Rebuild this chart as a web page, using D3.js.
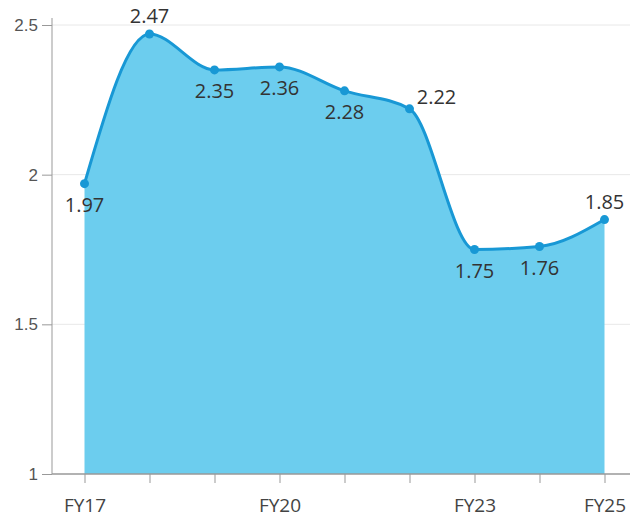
<!DOCTYPE html>
<html><head><meta charset="utf-8">
<script src="https://cdn.jsdelivr.net/npm/d3@7"></script>
<style>body{margin:0;background:#fff;font-family:"Open Sans","Noto Sans",sans-serif;}</style>
</head><body><svg id="c" width="630" height="518"></svg>
<script>
const categories = ["FY17","FY18","FY19","FY20","FY21","FY22","FY23","FY24","FY25"];
const values = [1.97,2.47,2.35,2.36,2.28,2.22,1.75,1.76,1.85];
const xTickLabels = ["FY17","FY20","FY23","FY25"];
const yTicks = [1,1.5,2,2.5];
const labelPos = ["below","above","below","below","below","right","below","below","above"];

const svg = d3.select("#c");
const mLeft = 52, mRight = 637, mTop = 25, mBottom = 474;
const x = d3.scalePoint().domain(categories).range([mLeft,mRight]).padding(0.5);
const y = d3.scaleLinear().domain([1,2.5]).range([mBottom,mTop]);

// grid
svg.append("g").selectAll("line").data(yTicks.filter(t=>t>1)).join("line")
  .attr("x1",mLeft).attr("x2",630).attr("y1",d=>y(d)).attr("y2",d=>y(d))
  .attr("stroke","#e8e8e8").attr("stroke-width",1);

const data = categories.map((c,i)=>({c,v:values[i]}));
const area = d3.area().x(d=>x(d.c)).y0(y(1)).y1(d=>y(d.v)).curve(d3.curveMonotoneX);
const line = d3.line().x(d=>x(d.c)).y(d=>y(d.v)).curve(d3.curveMonotoneX);
svg.append("path").datum(data).attr("d",area).attr("fill","#6ccdee");
svg.append("path").datum(data).attr("d",line).attr("fill","none").attr("stroke","#1898d5").attr("stroke-width",3);
svg.append("g").selectAll("circle").data(data).join("circle")
  .attr("cx",d=>x(d.c)).attr("cy",d=>y(d.v)).attr("r",4.5).attr("fill","#1898d5");

// axes
const yAxis = svg.append("g").attr("transform",`translate(${mLeft},0)`)
  .call(d3.axisLeft(y).tickValues(yTicks).tickFormat(d3.format("~g")).tickSizeOuter(0).tickSize(10).tickPadding(4));
yAxis.select(".domain").attr("stroke","#999").attr("d",`M0,${mTop-7}V${mBottom}`);
yAxis.selectAll(".tick line").attr("stroke","#999");
yAxis.selectAll("text").attr("fill","#555").attr("font-size",17).attr("font-family","'Liberation Sans',Arial,sans-serif");

const xAxis = svg.append("g").attr("transform",`translate(0,${mBottom})`)
  .call(d3.axisBottom(x).tickFormat(d=>xTickLabels.includes(d)?d:"").tickSizeOuter(0).tickSize(9));
xAxis.select(".domain").attr("stroke","#999").attr("stroke-width",1.5).attr("d",`M${mLeft},0H630`);
xAxis.selectAll(".tick line").attr("stroke","#999");
xAxis.selectAll("text").attr("fill","#444").attr("font-size",19).attr("font-family","'Open Sans',sans-serif").attr("y",38).attr("dy",0);

// labels
svg.append("g").selectAll("text").data(data).join("text")
  .attr("x",(d,i)=>x(d.c)+(labelPos[i]==="right"?27:0))
  .attr("y",(d,i)=>y(d.v)+(labelPos[i]==="below"?28:labelPos[i]==="above"?-11:-5))
  .attr("text-anchor","middle").attr("font-size",20).attr("fill","#333")
  .attr("font-family","'Open Sans',sans-serif")
  .text(d=>d.v.toFixed(2));
</script></body></html>
